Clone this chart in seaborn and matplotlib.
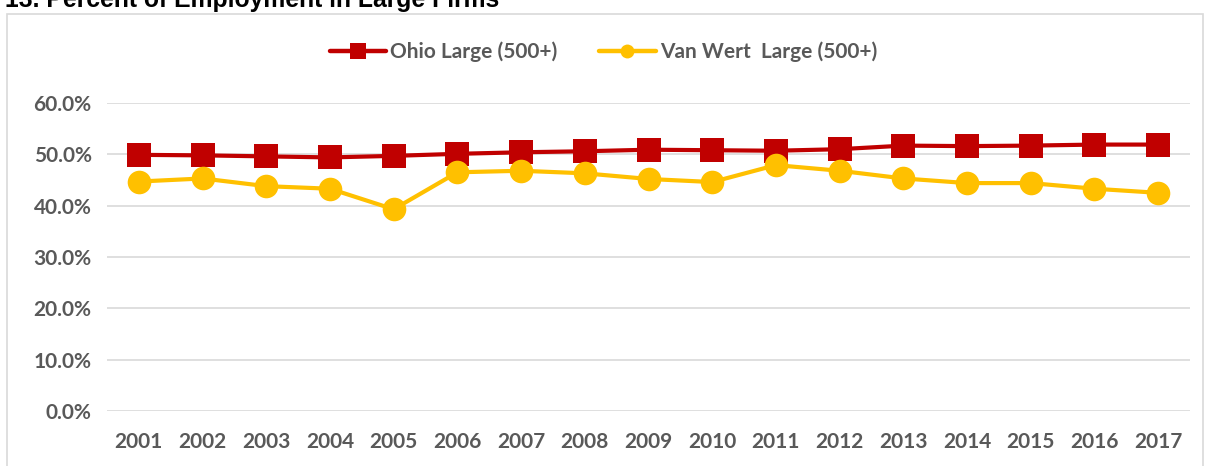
import numpy as np
import pandas as pd
import matplotlib
matplotlib.use("Agg")
import matplotlib.pyplot as plt
import matplotlib.patches as mpatches
import seaborn as sns

years = [str(y) for y in range(2001, 2018)]
ohio_large = [49.9, 49.8, 49.6, 49.4, 49.7, 50.1, 50.4, 50.6, 50.9,
              50.8, 50.7, 51.0, 51.7, 51.6, 51.7, 51.9, 51.9]
vanwert_large = [44.7, 45.3, 43.8, 43.3, 39.3, 46.5, 46.8, 46.3, 45.2,
                 44.6, 47.9, 46.8, 45.3, 44.4, 44.4, 43.3, 42.5]
series_names = ["Ohio Large (500+)", "Van Wert  Large (500+)"]
colors = ["#C00000", "#FFC000"]
title = "13. Percent of Employment in Large Firms"

df = pd.DataFrame({
    "year": years * 2,
    "pct": ohio_large + vanwert_large,
    "series": [series_names[0]] * len(years) + [series_names[1]] * len(years),
})

sns.set_style("white")
plt.rcParams["font.family"] = ["Lato", "DejaVu Sans"]
text_color = "#595959"

fig = plt.figure(figsize=(12.07, 4.66), dpi=100)
ax = fig.add_axes([107 / 1207, 55 / 466, 1083 / 1207, 308 / 466])

# chart border box (top part visible, runs off the bottom)
fig.patches.append(mpatches.Rectangle((7 / 1207, -0.05), 1196 / 1207, (466 - 14) / 466 + 0.05,
                                      transform=fig.transFigure, fill=False,
                                      edgecolor="#D9D9D9", lw=1.2))
# title sits half above the image edge, as in the source
fig.text(0.004, 1.0, title, ha="left", va="center", fontsize=17.8, fontweight="bold",
         color="black", family=["Liberation Sans", "DejaVu Sans"])

sns.lineplot(data=df, x="year", y="pct", hue="series", style="series",
             palette=dict(zip(series_names, colors)),
             markers={series_names[0]: "s", series_names[1]: "o"},
             dashes=False, lw=3, markersize=17, markeredgewidth=0,
             sort=False, ax=ax, legend=False)

ax.set_xlim(-0.5, len(years) - 0.5)
ax.set_ylim(0, 60)
ax.set_yticks(np.arange(0, 61, 10))
ax.set_yticklabels([f"{v:.1f}%" for v in np.arange(0, 61, 10)])
ax.yaxis.grid(True, color="#D9D9D9", lw=1.2)
ax.set_axisbelow(True)
for s in ax.spines.values():
    s.set_visible(False)
ax.set_xlabel("")
ax.set_ylabel("")
ax.tick_params(axis="both", length=0, labelsize=15, colors=text_color)
ax.tick_params(axis="x", pad=15)
ax.tick_params(axis="y", pad=11)
for lab in ax.get_xticklabels() + ax.get_yticklabels():
    lab.set_fontweight("bold")

handles = [
    plt.Line2D([], [], color=colors[0], lw=3.2, marker="s", markersize=12, markeredgewidth=0),
    plt.Line2D([], [], color=colors[1], lw=3.2, marker="o", markersize=10, markeredgewidth=0),
]
leg = fig.legend(handles, series_names, loc="center", bbox_to_anchor=(0.5, 1 - 52 / 466),
                 ncol=2, frameon=False, handlelength=2.7, handletextpad=0.2,
                 columnspacing=2.0, prop={"size": 15, "weight": "bold"})
for t in leg.get_texts():
    t.set_color(text_color)

fig.savefig("out.png", dpi=100)
